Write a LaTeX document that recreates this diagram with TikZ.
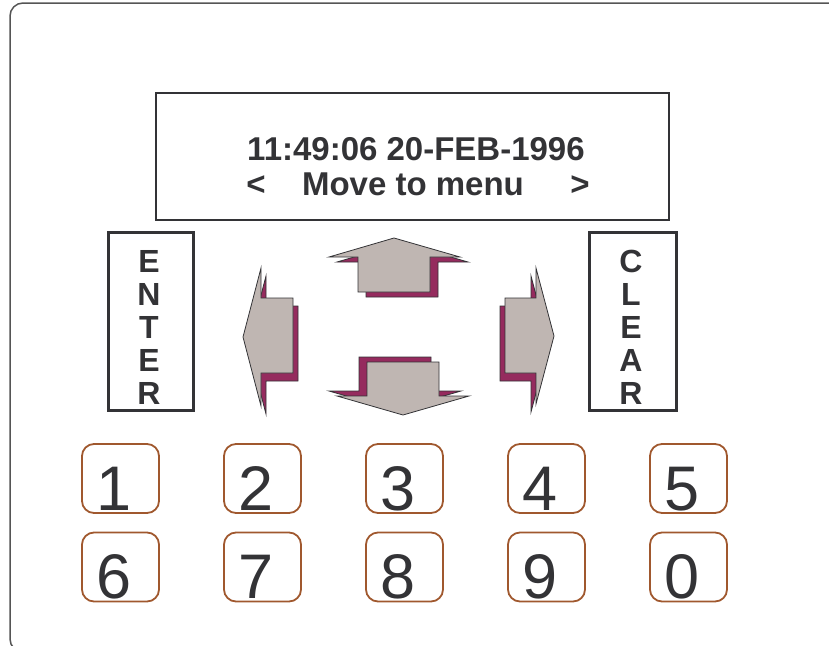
\documentclass[tikz,border=0pt]{standalone}
\usepackage{fontspec}
\setmainfont{Liberation Sans}
\usepackage{xcolor}
\usepackage{tikz}
\usetikzlibrary{positioning}
\definecolor{ink}{HTML}{333336}
\definecolor{frame}{HTML}{555555}
\definecolor{keybrown}{HTML}{A0582E}
\definecolor{facegray}{HTML}{BFB6B2}
\definecolor{shademag}{HTML}{952B5E}

\begin{document}
\begin{tikzpicture}[x=1pt,y=-1pt,
    face/.style={fill=facegray,draw=ink,line width=0.8pt,line join=miter},
    shadow/.style={fill=shademag,draw=ink,line width=0.8pt,line join=miter},
    btnbox/.style={draw=ink,line width=3pt},
    btnletter/.style={text=ink,font=\fontsize{32}{32}\selectfont\bfseries,inner sep=0pt,anchor=base},
    screentext/.style={btnletter,font=\fontsize{33}{33}\selectfont\bfseries},
    key/.style={draw=keybrown,line width=1.8pt,rounded corners=12pt,minimum width=77pt,minimum height=69pt,inner sep=0pt},
    digit/.style={text=ink,font=\fontsize{63}{63}\selectfont,inner sep=0pt,anchor=base}]
  \useasboundingbox (0,0) rectangle (829,645);
  % outer frame
  \begin{scope}
    \clip (0,0) rectangle (829,645);
    \draw[frame,line width=1.5pt,rounded corners=13pt] (10,3) rectangle (850,652);
  \end{scope}
  % display
  \draw[ink,line width=1.6pt] (156,93) rectangle (669,220);
  \node[screentext] (time) at (416,160) {11:49:06 20-FEB-1996};
  \node[screentext] (menu) at (413,195) {Move to menu};
  \node[screentext] (prev) at (256,195) {<};
  \node[screentext] (next) at (580,195) {>};
  % enter / clear
  \draw[btnbox] (108,232) rectangle (193,410);
  \draw[btnbox] (589,232) rectangle (676,410);
  \foreach \ch [count=\i] in {E,N,T,E,R}
    \node[btnletter] (enter\i) at (149,{272+33*(\i-1)}) {\ch};
  \foreach \ch [count=\i] in {C,L,E,A,R}
    \node[btnletter] (clear\i) at (631,{272+33*(\i-1)}) {\ch};
  % arrows
  \foreach \dx/\dy/\st in {8/5/shadow,0/0/face}
    \draw[\st,shift={(\dx,\dy)}] (394,238) -- (329,257) -- (358,257) -- (358,292) -- (430,292) -- (430,257) -- (460,257) -- cycle;
  \foreach \dx/\dy/\st in {-8/-5/shadow,0/0/face}
    \draw[\st,shift={(\dx,\dy)}] (403,415) -- (337,396) -- (367,396) -- (367,362) -- (439,362) -- (439,396) -- (469,396) -- cycle;
  \foreach \dx/\dy/\st in {5/8/shadow,0/0/face}
    \draw[\st,shift={(\dx,\dy)}] (243,337) -- (261,268) -- (261,298) -- (293,298) -- (293,373) -- (261,373) -- (261,406) -- cycle;
  \foreach \dx/\dy/\st in {-5/8/shadow,0/0/face}
    \draw[\st,shift={(\dx,\dy)}] (554,336) -- (536,268) -- (536,298) -- (505,298) -- (505,373) -- (536,373) -- (536,404) -- cycle;
  % keypad
  \foreach \d/\x/\y in {1/120.5/478.5,2/262.5/478.5,3/404.5/478.5,4/546.5/478.5,5/688.5/478.5,
                        6/120.5/567,7/262.5/567,8/404.5/567,9/546.5/567,0/688.5/567}
    {\node[key] (key\d) at (\x,\y) {};
     \node[digit,xshift=-6pt,yshift=3.5pt] (num\d) at (key\d.south) {\d};}
\end{tikzpicture}
\end{document}
